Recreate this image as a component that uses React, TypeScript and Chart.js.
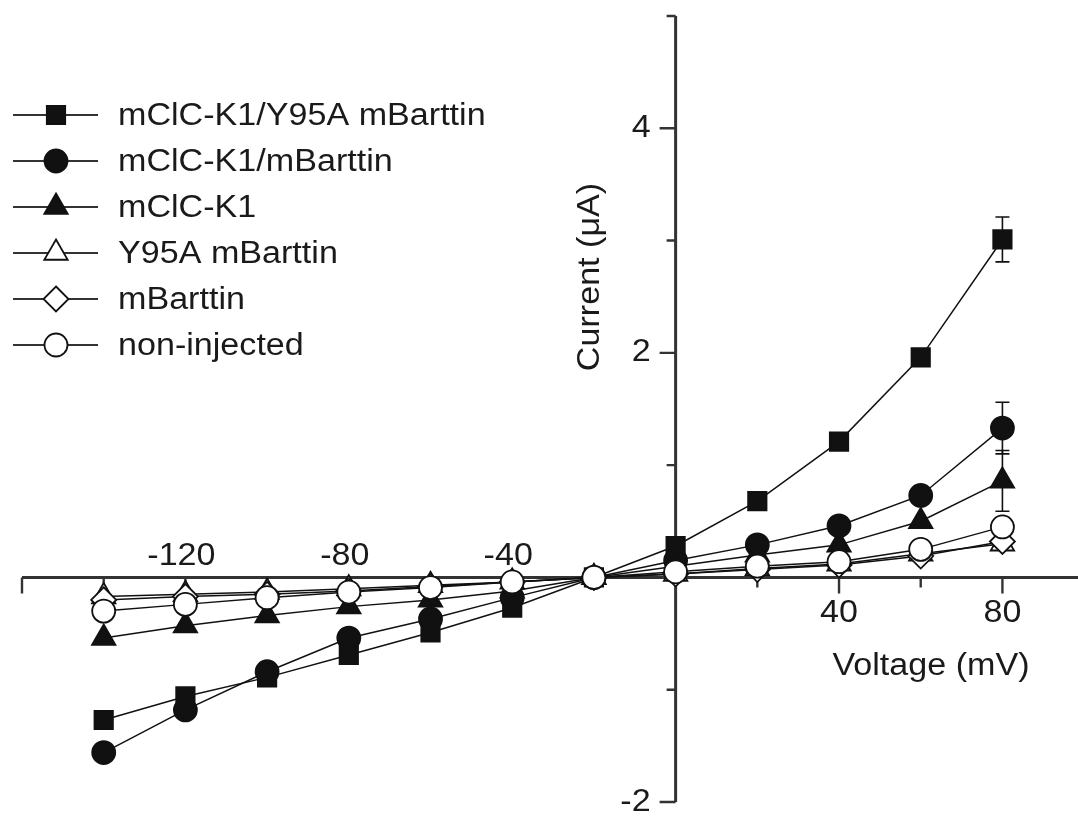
import React, { useEffect, useRef } from "react";
import { Chart, registerables } from "chart.js";

Chart.register(...registerables);

// ---- data ----
const voltages = [-140, -120, -100, -80, -60, -40, -20, 0, 20, 40, 60, 80];
const seriesNames = [
  "mClC-K1/Y95A mBarttin",
  "mClC-K1/mBarttin",
  "mClC-K1",
  "Y95A mBarttin",
  "mBarttin",
  "non-injected",
];
const k1Y95A = [-1.27, -1.06, -0.89, -0.69, -0.49, -0.27, 0, 0.28, 0.68, 1.21, 1.96, 3.01];
const k1Barttin = [-1.56, -1.18, -0.84, -0.54, -0.37, -0.18, 0, 0.15, 0.29, 0.46, 0.73, 1.33];
const k1Only = [-0.54, -0.43, -0.34, -0.26, -0.2, -0.12, 0, 0.1, 0.2, 0.29, 0.5, 0.86];
const y95aBarttin = [-0.17, -0.15, -0.13, -0.1, -0.07, -0.04, 0, 0.03, 0.08, 0.12, 0.21, 0.3];
const barttinOnly = [-0.2, -0.17, -0.15, -0.12, -0.08, -0.04, 0, 0.03, 0.07, 0.11, 0.19, 0.32];
const nonInjected = [-0.3, -0.24, -0.18, -0.13, -0.09, -0.04, 0, 0.05, 0.1, 0.14, 0.25, 0.45];

// standard errors (only visible ones)
const errK1Y95A = [0, 0, 0, 0, 0, 0, 0, 0, 0, 0, 0, 0.2];
const errK1Barttin = [0, 0, 0, 0, 0, 0, 0, 0, 0, 0, 0, 0.23];
const errK1Only = [0, 0, 0, 0, 0, 0, 0, 0, 0, 0, 0, 0.27];

// ticks
const xMajorTicks = [-160, -120, -80, -40, 40, 80];
const xMinorTicks = [-140, -100, -60, -20, 20, 60];
const xLabelsAbove = [-120, -80, -40];
const xLabelsBelow = [40, 80];
const yMajorTicks = [-2, 2, 4];
const yMinorTicks = [-1, 1, 3, 5];
const yLabels = [-2, 2, 4];
const xTitle = "Voltage (mV)";
const yTitle = "Current (\u03BCA)";

const FONT = '"Liberation Sans", Arial, sans-serif';
const FONT_PX = 31;
const STRETCH = 1.1;
const AXIS = "#333333";
const INK = "#111111";
const TEXT = "#1a1a1a";

type Marker = { style: string; radius: number; filled: boolean };
const markers: Marker[] = [
  { style: "rect", radius: 13, filled: true },
  { style: "circle", radius: 11.5, filled: true },
  { style: "triangle", radius: 13.5, filled: true },
  { style: "triangle", radius: 13.5, filled: false },
  { style: "rectRot", radius: 12.5, filled: false },
  { style: "circle", radius: 11.5, filled: false },
];
const seriesValues = [k1Y95A, k1Barttin, k1Only, y95aBarttin, barttinOnly, nonInjected];
const seriesErrors = [errK1Y95A, errK1Barttin, errK1Only, null, null, null];

function drawText(
  ctx: CanvasRenderingContext2D,
  text: string,
  x: number,
  y: number,
  align: CanvasTextAlign,
  rotate = 0
) {
  ctx.save();
  ctx.translate(x, y);
  if (rotate) ctx.rotate(rotate);
  ctx.scale(STRETCH, 1);
  ctx.font = `${FONT_PX}px ${FONT}`;
  ctx.fillStyle = TEXT;
  ctx.textAlign = align;
  ctx.textBaseline = "middle";
  ctx.fillText(text, 0, 0);
  ctx.restore();
}

function drawMarker(ctx: CanvasRenderingContext2D, m: Marker, x: number, y: number) {
  const r = m.radius;
  ctx.beginPath();
  if (m.style === "rect") {
    const s = r * Math.SQRT1_2;
    ctx.rect(x - s, y - s, 2 * s, 2 * s);
  } else if (m.style === "circle") {
    ctx.arc(x, y, r, 0, Math.PI * 2);
  } else if (m.style === "triangle") {
    ctx.moveTo(x, y - r);
    ctx.lineTo(x + r * Math.sin((2 * Math.PI) / 3), y - r * Math.cos((2 * Math.PI) / 3));
    ctx.lineTo(x + r * Math.sin((4 * Math.PI) / 3), y - r * Math.cos((4 * Math.PI) / 3));
  } else {
    ctx.moveTo(x, y - r);
    ctx.lineTo(x + r, y);
    ctx.lineTo(x, y + r);
    ctx.lineTo(x - r, y);
  }
  ctx.closePath();
  ctx.fillStyle = m.filled ? INK : "#ffffff";
  ctx.fill();
  ctx.lineWidth = 1.8;
  ctx.strokeStyle = INK;
  ctx.stroke();
}

const axesPlugin = {
  id: "crossAxes",
  beforeDatasetsDraw(chart: any) {
    const ctx: CanvasRenderingContext2D = chart.ctx;
    const xs = chart.scales.x;
    const ys = chart.scales.y;
    const x0 = xs.getPixelForValue(0);
    const y0 = ys.getPixelForValue(0);
    ctx.save();
    ctx.strokeStyle = AXIS;
    ctx.lineWidth = 3;
    ctx.lineCap = "butt";
    ctx.beginPath();
    ctx.moveTo(xs.left, y0);
    ctx.lineTo(xs.right, y0);
    ctx.moveTo(x0, ys.top);
    ctx.lineTo(x0, ys.bottom);
    ctx.stroke();

    ctx.lineWidth = 2.4;
    ctx.beginPath();
    xMajorTicks.forEach((v) => {
      const p = xs.getPixelForValue(v);
      ctx.moveTo(p, y0);
      ctx.lineTo(p, y0 + 16);
    });
    xMinorTicks.forEach((v) => {
      const p = xs.getPixelForValue(v);
      ctx.moveTo(p, y0);
      ctx.lineTo(p, y0 + 10);
    });
    yMajorTicks.forEach((v) => {
      const p = ys.getPixelForValue(v);
      ctx.moveTo(x0, p);
      ctx.lineTo(x0 - 16, p);
    });
    yMinorTicks.forEach((v) => {
      const p = ys.getPixelForValue(v);
      ctx.moveTo(x0, p);
      ctx.lineTo(x0 - 9, p);
    });
    ctx.stroke();

    xLabelsAbove.forEach((v) => {
      drawText(ctx, String(v), xs.getPixelForValue(v) - 4, y0 - 21, "center");
    });
    xLabelsBelow.forEach((v) => {
      drawText(ctx, String(v), xs.getPixelForValue(v), y0 + 36, "center");
    });
    yLabels.forEach((v) => {
      drawText(ctx, String(v), x0 - 25, ys.getPixelForValue(v), "right");
    });
    drawText(ctx, xTitle, 931, 666, "center");
    drawText(ctx, yTitle, 590, 277, "center", -Math.PI / 2);

    // error bars
    ctx.strokeStyle = INK;
    ctx.lineWidth = 1.6;
    seriesErrors.forEach((errs, si) => {
      if (!errs) return;
      errs.forEach((e, i) => {
        if (!e) return;
        const px = xs.getPixelForValue(voltages[i]);
        const v = seriesValues[si][i];
        const top = ys.getPixelForValue(v + e);
        const bot = ys.getPixelForValue(v - e);
        ctx.beginPath();
        ctx.moveTo(px, top);
        ctx.lineTo(px, bot);
        ctx.moveTo(px - 7, top);
        ctx.lineTo(px + 7, top);
        ctx.moveTo(px - 7, bot);
        ctx.lineTo(px + 7, bot);
        ctx.stroke();
      });
    });
    ctx.restore();
  },
  afterDraw(chart: any) {
    const ctx: CanvasRenderingContext2D = chart.ctx;
    ctx.save();
    const rows = [115, 161, 207, 253, 299, 345];
    seriesNames.forEach((name, i) => {
      const y = rows[i];
      ctx.strokeStyle = AXIS;
      ctx.lineWidth = 1.8;
      ctx.beginPath();
      ctx.moveTo(13, y);
      ctx.lineTo(98, y);
      ctx.stroke();
      drawMarker(ctx, markers[i], 56, y);
      drawText(ctx, name, 118, y + 1, "left");
    });
    ctx.restore();
  },
};

export default function App() {
  const ref = useRef<HTMLCanvasElement>(null);
  useEffect(() => {
    document.body.style.margin = "0";
    const drawOrder = [5, 4, 3, 2, 1, 0];
    const chart = new Chart(ref.current as HTMLCanvasElement, {
      type: "scatter",
      data: {
        datasets: seriesNames.map((name, si) => ({
          label: name,
          data: voltages.map((v, i) => ({ x: v, y: seriesValues[si][i] })),
          showLine: true,
          borderColor: INK,
          borderWidth: 1.5,
          pointStyle: markers[si].style as any,
          pointRadius: markers[si].radius,
          pointBackgroundColor: markers[si].filled ? INK : "#ffffff",
          pointBorderColor: INK,
          pointBorderWidth: 1.8,
          order: drawOrder[si],
          clip: false as any,
        })),
      },
      options: {
        animation: false,
        responsive: false,
        layout: { autoPadding: false, padding: { left: 22, right: 0, top: 16, bottom: 14 } } as any,
        plugins: { legend: { display: false }, tooltip: { enabled: false } },
        scales: {
          x: { type: "linear", min: -160, max: 98.5, display: false },
          y: { type: "linear", min: -2, max: 5, display: false },
        },
      },
      plugins: [axesPlugin],
    });
    return () => chart.destroy();
  }, []);
  return (
    <div style={{ width: 1078, height: 816 }}>
      <canvas ref={ref} width={1078} height={816} style={{ display: "block" }} />
    </div>
  );
}
